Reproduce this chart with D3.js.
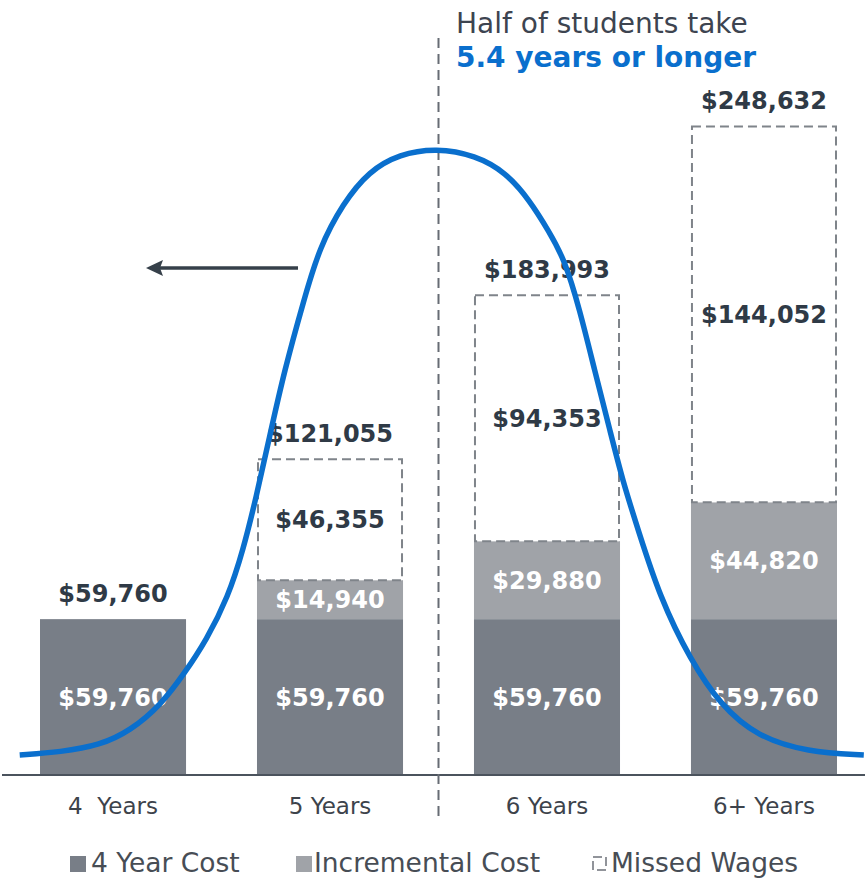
<!DOCTYPE html>
<html>
<head>
<meta charset="utf-8">
<script src="https://cdn.jsdelivr.net/npm/d3@7"></script>
<style>
  html, body { margin: 0; padding: 0; background: #fff; }
  svg { display: block; }
</style>
</head>
<body>
<svg id="chart" width="865" height="879"></svg>
<script>
// ---------- data ----------
const categories = ["4  Years", "5 Years", "6 Years", "6+ Years"];
const fourYearCost = [59760, 59760, 59760, 59760];
const incrementalCost = [0, 14940, 29880, 44820];
const missedWages = [0, 46355, 94353, 144052];
const totals = [59760, 121055, 183993, 248632];
const seriesNames = ["4 Year Cost", "Incremental Cost", "Missed Wages"];

// distribution curve: years to finish vs. relative share
const curveYears = [3.57, 3.76, 3.94, 4.08, 4.22, 4.33, 4.43, 4.53, 4.60, 4.66, 4.72, 4.79, 4.88, 4.95, 5.06, 5.18, 5.32, 5.49,
                    5.67, 5.81, 5.92, 6.01, 6.08, 6.15, 6.22, 6.29, 6.35, 6.42, 6.52, 6.66, 6.80, 6.97, 7.20, 7.46];
const curveShare = [0.000, 0.005, 0.016, 0.040, 0.082, 0.135, 0.189, 0.260, 0.338, 0.425, 0.522, 0.634, 0.750, 0.835, 0.909, 0.962, 0.990, 1.000,
                    0.988, 0.960, 0.914, 0.862, 0.817, 0.735, 0.633, 0.535, 0.450, 0.371, 0.260, 0.157, 0.082, 0.030, 0.005, 0.000];
const medianYears = 5.5;
const titleLine1 = "Half of students take";
const titleLine2 = "5.4 years or longer";

// ---------- styles ----------
const colDark = "#787e87";
const colLight = "#a0a3a8";
const colDash = "#7f848a";
const colText = "#2f3a46";
const colBlue = "#0a6fcd";
const fontFam = "'DejaVu Sans', Verdana, sans-serif";

const svg = d3.select("#chart");

const x = d3.scaleBand().domain(categories).range([40, 837]).paddingInner(0.327).paddingOuter(0);
const y = d3.scaleLinear().domain([0, 250000]).range([775, 123]);

const rows = categories.map((c, i) => ({
  cat: c, a: fourYearCost[i], b: incrementalCost[i], m: missedWages[i], total: totals[i]
}));

// ---------- bars ----------
const g = svg.append("g");
rows.forEach(r => {
  const x0 = x(r.cat), w = x.bandwidth();
  g.append("rect").attr("x", x0).attr("width", w)
    .attr("y", y(r.a)).attr("height", y(0) - y(r.a)).attr("fill", colDark);
  g.append("text").attr("x", x0 + w / 2).attr("y", (y(0) + y(r.a)) / 2)
    .attr("dy", "0.36em").attr("text-anchor", "middle")
    .attr("font-family", fontFam).attr("font-weight", "bold").attr("font-size", 24)
    .attr("fill", "#fff").text(d3.format("$,")(r.a));
  if (r.b > 0) {
    g.append("rect").attr("x", x0).attr("width", w)
      .attr("y", y(r.a + r.b)).attr("height", y(r.a) - y(r.a + r.b)).attr("fill", colLight);
    g.append("text").attr("x", x0 + w / 2).attr("y", (y(r.a) + y(r.a + r.b)) / 2)
      .attr("dy", "0.36em").attr("text-anchor", "middle")
      .attr("font-family", fontFam).attr("font-weight", "bold").attr("font-size", 24)
      .attr("fill", "#fff").text(d3.format("$,")(r.b));
  }
  if (r.m > 0) {
    const top = y(r.a + r.b + r.m), bot = y(r.a + r.b);
    g.append("rect").attr("x", x0 + 1).attr("width", w - 2)
      .attr("y", top).attr("height", bot - top)
      .attr("fill", "#fff").attr("stroke", colDash).attr("stroke-width", 2)
      .attr("stroke-dasharray", "9,5");
    g.append("text").attr("x", x0 + w / 2).attr("y", (top + bot) / 2)
      .attr("dy", "0.36em").attr("text-anchor", "middle")
      .attr("font-family", fontFam).attr("font-weight", "bold").attr("font-size", 24)
      .attr("fill", colText).text(d3.format("$,")(r.m));
  }
  g.append("text").attr("x", x0 + w / 2).attr("y", y(r.total) - 26)
    .attr("dy", "0.36em").attr("text-anchor", "middle")
    .attr("font-family", fontFam).attr("font-weight", "bold").attr("font-size", 24)
    .attr("fill", colText).text(d3.format("$,")(r.total));
});

// ---------- baseline axis ----------
svg.append("line").attr("x1", 2).attr("x2", 865).attr("y1", y(0)).attr("y2", y(0))
  .attr("stroke", "#4b535d").attr("stroke-width", 2);

const xAxis = svg.append("g").attr("transform", `translate(0,${y(0)})`)
  .call(d3.axisBottom(x).tickSize(0).tickPadding(23));
xAxis.select(".domain").remove();
xAxis.selectAll("text").attr("font-family", fontFam).attr("font-size", 23)
  .attr("fill", "#3d434b").style("white-space", "pre");

// ---------- curve ----------
const xYears = d3.scaleLinear().domain([4, 7])
  .range([x(categories[0]) + x.bandwidth() / 2, x(categories[3]) + x.bandwidth() / 2]);
const yShare = d3.scaleLinear().domain([0, 1]).range([755, 148]);

svg.append("line").attr("x1", xYears(medianYears)).attr("x2", xYears(medianYears))
  .attr("y1", 38).attr("y2", 818)
  .attr("stroke", "#676c74").attr("stroke-width", 2).attr("stroke-dasharray", "10,6");

const pts = curveYears.map((v, i) => [v, curveShare[i]]);
svg.append("path").datum(pts)
  .attr("d", d3.line().x(d => xYears(d[0])).y(d => yShare(d[1])).curve(d3.curveBasis))
  .attr("fill", "none").attr("stroke", colBlue).attr("stroke-width", 5.5);

// arrow
const arrowY = 268;
svg.append("line").attr("x1", 298).attr("x2", 160).attr("y1", arrowY).attr("y2", arrowY)
  .attr("stroke", "#36404a").attr("stroke-width", 3.5);
svg.append("path").attr("d", `M146,${arrowY} L163,${arrowY - 8} L160,${arrowY} L163,${arrowY + 8} Z`)
  .attr("fill", "#36404a");

// ---------- title ----------
svg.append("text").attr("x", 456).attr("y", 33)
  .attr("font-family", fontFam).attr("font-size", 28).attr("fill", "#3d4450").text(titleLine1);
svg.append("text").attr("x", 456).attr("y", 67)
  .attr("font-family", fontFam).attr("font-weight", "bold").attr("font-size", 28).attr("fill", colBlue).text(titleLine2);

// ---------- legend ----------
const legendSwatchX = [70, 296, 592];
const legendTextX = [91, 314, 611];
const lg = svg.append("g");
seriesNames.forEach((n, i) => {
  const lx = legendSwatchX[i];
  if (i === 0) lg.append("rect").attr("x", lx).attr("y", 856).attr("width", 16).attr("height", 16).attr("fill", colDark);
  if (i === 1) lg.append("rect").attr("x", lx).attr("y", 856).attr("width", 16).attr("height", 16).attr("fill", colLight);
  if (i === 2) lg.append("rect").attr("x", lx + 1).attr("y", 857).attr("width", 13).attr("height", 13)
    .attr("fill", "#fff").attr("stroke", "#6d7279").attr("stroke-width", 1.5).attr("stroke-dasharray", "9,4");
  lg.append("text").attr("x", legendTextX[i]).attr("y", 872)
    .attr("font-family", fontFam).attr("font-size", 26.5).attr("fill", "#474d55").text(n);
});
</script>
</body>
</html>
